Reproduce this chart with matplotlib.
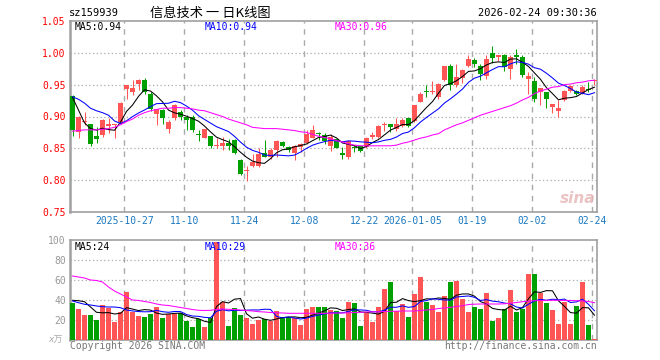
import numpy as np
import pandas as pd
import matplotlib
matplotlib.use("Agg")
import matplotlib.pyplot as plt

plt.rcParams['font.family'] = ['DejaVu Sans Mono', 'Noto Sans CJK SC']

# trading days 2025-10-14 .. 2026-02-24
holidays = ['2026-01-01', '2026-01-02', '2026-02-16', '2026-02-17', '2026-02-18',
            '2026-02-19', '2026-02-20', '2026-02-23']
dates = pd.bdate_range('2025-10-14', '2026-02-24', freq='C', holidays=holidays)

tick_dates = ['2025-10-27', '2025-11-10', '2025-11-24', '2025-12-08', '2025-12-22',
              '2026-01-05', '2026-01-19', '2026-02-02', '2026-02-24']
tick_labels = ['2025-10-27', '11-10', '11-24', '12-08', '12-22',
               '2026-01-05', '01-19', '02-02', '02-24']

opens = [0.932, 0.876, 0.891, 0.889, 0.869, 0.871, 0.885, 0.886, 0.892, 0.943,
         0.938, 0.951, 0.957, 0.936, 0.904, 0.910, 0.880, 0.898, 0.907, 0.900,
         0.900, 0.873, 0.867, 0.869, 0.853, 0.853, 0.859, 0.863, 0.832, 0.814,
         0.822, 0.822, 0.842, 0.836, 0.848, 0.860, 0.852, 0.843, 0.852, 0.859,
         0.867, 0.874, 0.871, 0.854, 0.865, 0.842, 0.836, 0.851, 0.853, 0.852,
         0.868, 0.868, 0.886, 0.888, 0.880, 0.885, 0.897, 0.893, 0.923, 0.940,
         0.939, 0.931, 0.957, 0.979, 0.949, 0.961, 0.979, 0.989, 0.979, 0.963,
         1.000, 0.994, 0.997, 0.975, 0.997, 0.993, 0.959, 0.956, 0.939, 0.938,
         0.915, 0.909, 0.926, 0.940, 0.940, 0.937, 0.942, 0.956]
highs = [0.933, 0.901, 0.907, 0.889, 0.883, 0.896, 0.897, 0.889, 0.923, 0.950,
         0.958, 0.959, 0.960, 0.938, 0.912, 0.911, 0.894, 0.919, 0.910, 0.902,
         0.902, 0.879, 0.881, 0.870, 0.866, 0.868, 0.864, 0.865, 0.833, 0.822,
         0.841, 0.850, 0.863, 0.850, 0.863, 0.861, 0.854, 0.855, 0.858, 0.879,
         0.886, 0.876, 0.874, 0.873, 0.865, 0.852, 0.863, 0.855, 0.855, 0.868,
         0.875, 0.887, 0.891, 0.889, 0.898, 0.898, 0.898, 0.918, 0.938, 0.949,
         0.956, 0.952, 0.980, 0.982, 0.982, 0.975, 0.997, 0.992, 0.982, 0.996,
         1.010, 0.997, 0.998, 0.997, 1.006, 0.996, 0.970, 0.962, 0.945, 0.939,
         0.920, 0.926, 0.941, 0.949, 0.941, 0.949, 0.954, 0.959]
lows = [0.870, 0.866, 0.886, 0.854, 0.859, 0.868, 0.874, 0.867, 0.889, 0.927,
        0.933, 0.941, 0.936, 0.908, 0.886, 0.888, 0.874, 0.894, 0.894, 0.879,
        0.876, 0.862, 0.866, 0.850, 0.850, 0.847, 0.847, 0.841, 0.808, 0.798,
        0.820, 0.820, 0.836, 0.834, 0.837, 0.852, 0.845, 0.832, 0.845, 0.857,
        0.866, 0.863, 0.857, 0.846, 0.850, 0.833, 0.833, 0.845, 0.845, 0.850,
        0.864, 0.867, 0.878, 0.876, 0.878, 0.883, 0.884, 0.892, 0.922, 0.931,
        0.935, 0.928, 0.956, 0.942, 0.947, 0.952, 0.977, 0.978, 0.958, 0.959,
        0.984, 0.987, 0.971, 0.959, 0.983, 0.962, 0.936, 0.922, 0.918, 0.913,
        0.906, 0.900, 0.924, 0.938, 0.933, 0.936, 0.939, 0.949]
closes = [0.879, 0.900, 0.892, 0.857, 0.865, 0.894, 0.889, 0.887, 0.921, 0.949,
          0.944, 0.957, 0.939, 0.911, 0.911, 0.897, 0.892, 0.918, 0.900, 0.895,
          0.879, 0.871, 0.880, 0.854, 0.854, 0.859, 0.854, 0.842, 0.810, 0.815,
          0.829, 0.841, 0.837, 0.847, 0.861, 0.853, 0.847, 0.854, 0.857, 0.873,
          0.879, 0.872, 0.862, 0.868, 0.851, 0.839, 0.862, 0.850, 0.846, 0.867,
          0.871, 0.885, 0.887, 0.883, 0.888, 0.894, 0.885, 0.918, 0.935, 0.939,
          0.940, 0.951, 0.979, 0.949, 0.962, 0.973, 0.991, 0.983, 0.967, 0.991,
          0.992, 0.996, 0.978, 0.994, 0.993, 0.965, 0.963, 0.927, 0.944, 0.927,
          0.919, 0.914, 0.940, 0.948, 0.936, 0.947, 0.941, 0.958]

# volume, unit 万
volumes = [37.5, 31, 25, 25, 20, 35, 32, 18, 28.5, 48,
           28.3, 24.3, 23, 26, 33, 22, 26, 26, 27.5, 19,
           13, 21, 13, 21.7, 98.3, 38, 14, 32, 25, 22,
           16, 20, 21, 19.5, 28.7, 22.8, 22.8, 22, 15, 31,
           33.2, 33.2, 33.2, 30, 29, 22, 38, 37, 14.3, 27,
           18, 33, 51, 58, 29, 36, 23, 46, 63, 38,
           35, 28, 44, 58, 59.3, 41, 28, 33, 31, 47,
           19, 22, 31, 50, 28, 31, 66, 66, 47, 37,
           30, 16, 38, 16, 34, 58, 15, 1]

ma5_head = [0.930, 0.910, 0.890, 0.881]
ma10_head = [0.931, 0.927, 0.921, 0.913, 0.909, 0.906, 0.902, 0.893, 0.889]
ma30 = [0.877, 0.878, 0.879, 0.879, 0.879, 0.880, 0.881, 0.883, 0.887, 0.892,
        0.896, 0.902, 0.906, 0.909, 0.911, 0.913, 0.913, 0.914, 0.914, 0.913,
        0.912, 0.910, 0.909, 0.906, 0.903, 0.900, 0.896, 0.893, 0.890, 0.887,
        0.883, 0.882, 0.881, 0.881, 0.881, 0.880, 0.879, 0.878, 0.876, 0.875,
        0.872, 0.869, 0.867, 0.865, 0.862, 0.860, 0.857, 0.855, 0.854, 0.854,
        0.854, 0.854, 0.854, 0.854, 0.855, 0.858, 0.860, 0.863, 0.866, 0.868,
        0.871, 0.873, 0.879, 0.883, 0.887, 0.890, 0.894, 0.898, 0.902, 0.905,
        0.908, 0.911, 0.914, 0.917, 0.921, 0.926, 0.930, 0.936, 0.940, 0.943,
        0.946, 0.947, 0.950, 0.951, 0.953, 0.954, 0.956, 0.957]
vma5_head = [39.7, 39.3, 38.3, 33]
vma10_head = [39, 37.3, 35.7, 35, 34, 33.3, 33, 33, 32.3]
vma30 = [64, 63, 62, 60, 59.5, 58, 53, 49, 46, 43,
         40, 39.5, 38.5, 37.5, 36, 35, 34.5, 33.5, 32.5, 31.5,
         30.5, 29.7, 29.5, 29.7, 30.5, 31, 30.7, 30.5, 30, 29.5,
         29, 28.3, 28, 27.5, 27.2, 27, 26.7, 26.7, 26.7, 26.7,
         26.7, 26.7, 26.7, 26.7, 27, 27, 27.2, 27.5, 27.7, 28,
         28.2, 28.3, 28.5, 28.7, 28.8, 29, 29, 29, 29.5, 30,
         30.5, 31.5, 32, 32.7, 33.5, 34.3, 35.5, 35.8, 36, 36,
         36, 36, 36.2, 36.8, 37.5, 38.3, 38.8, 39.3, 39.5, 39.6,
         39.7, 39.7, 39.6, 39.5, 39.3, 39, 38.5, 37.3]

RED = '#ff5555'
GREEN = '#00a000'
GRID = '#aaaaaa'
FRAME = '#a0a0a0'
LW = 0.75


def with_head(values, n, head):
    ma = pd.Series(values).rolling(n).mean().to_numpy()
    ma[:len(head)] = head
    return ma


def px(x):
    return x / 660


def py(y):
    return 1 - y / 360


x = np.arange(len(dates))
o = np.array(opens)
c = np.array(closes)
up = c >= o
colors = [RED if u else GREEN for u in up]
tick_pos = [dates.get_loc(pd.Timestamp(d)) - 0.35 for d in tick_dates]

fig = plt.figure(figsize=(6.6, 3.6), dpi=100)
ax = fig.add_axes([px(70), py(212), px(527), 191 / 360])
axv = fig.add_axes([px(70), py(340), px(527), 100 / 360])

for a in (ax, axv):
    a.set_xlim(-0.42, 87.42)
    for s in a.spines.values():
        s.set_color(FRAME)
        s.set_linewidth(1.2)
    a.spines['left'].set_linewidth(1.8)
    a.set_xticks([])
    a.tick_params(axis='y', length=0, pad=3, labelsize=7)
    for t in tick_pos:
        a.axvline(t, color=GRID, lw=1, ls=(0, (4, 4)), zorder=0)

# price panel
ax.set_ylim(0.75, 1.05)
yt = [0.75, 0.80, 0.85, 0.90, 0.95, 1.00, 1.05]
ax.set_yticks(yt)
ax.set_yticklabels(['%.2f' % v for v in yt], color='red')
for v in yt[1:-1]:
    ax.axhline(v, color=GRID, lw=0.9, ls=(0, (1, 2)), zorder=0)

ax.vlines(x, lows, highs, colors=colors, lw=LW, zorder=2)
body = np.maximum(np.abs(c - o), 0.0016)
ax.bar(x, body, bottom=np.minimum(o, c), width=0.8, color=colors, lw=0, zorder=3)

ax.plot(x, with_head(closes, 5, ma5_head), color='black', lw=LW, zorder=4)
ax.plot(x, with_head(closes, 10, ma10_head), color='blue', lw=LW, zorder=4)
ax.plot(x, ma30, color='magenta', lw=LW, zorder=4)

# volume panel
axv.set_ylim(0, 100)
vt = [20, 40, 60, 80, 100]
axv.set_yticks(vt)
axv.set_yticklabels([str(v) for v in vt], color='#999999')
for v in vt[:-1]:
    axv.axhline(v, color=GRID, lw=0.9, ls=(0, (1, 2)), zorder=0)
axv.bar(x, volumes, width=0.8, color=colors, lw=0, zorder=3)
axv.plot(x, with_head(volumes, 5, vma5_head), color='black', lw=LW, zorder=4)
axv.plot(x, with_head(volumes, 10, vma10_head), color='blue', lw=LW, zorder=4)
axv.plot(x, vma30, color='magenta', lw=LW, zorder=4)

# date labels between the panels
for t, lab in zip(tick_pos, tick_labels):
    fig.text(px(72.5 + 6 * t), py(221), lab, ha='center', va='center',
             fontsize=7, color='#1a78c2')

# header and labels
fig.text(px(69), py(13), 'sz159939', fontsize=7.5, va='center')
fig.text(px(150), py(13), '信息技术 一 日K线图', fontsize=9.5, va='center',
         family=['Noto Sans CJK SC', 'DejaVu Sans'])
fig.text(px(597), py(13), '2026-02-24 09:30:36', fontsize=7.5, va='center', ha='right')

fig.text(px(75), py(27), 'MA5:0.94', fontsize=7, va='center', color='black')
fig.text(px(205), py(27), 'MA10:0.94', fontsize=7, va='center', color='blue')
fig.text(px(335), py(27), 'MA30:0.96', fontsize=7, va='center', color='magenta')

fig.text(px(75), py(247), 'MA5:24', fontsize=7, va='center', color='black')
fig.text(px(205), py(247), 'MA10:29', fontsize=7, va='center', color='blue')
fig.text(px(335), py(247), 'MA30:36', fontsize=7, va='center', color='magenta')

fig.text(px(63), py(340), 'x万', fontsize=6.5, va='center', ha='right', color='#aaaaaa',
         style='italic', family=['DejaVu Sans', 'Noto Sans CJK SC'])
fig.text(px(70), py(346), 'Copyright 2026 SINA.COM', fontsize=7, va='center', color='#777777')
fig.text(px(597), py(346), 'http://finance.sina.com.cn', fontsize=7, va='center',
         ha='right', color='#777777')
fig.text(px(578), py(198), 'sina', fontsize=11, va='center', ha='center', color='#e6b4b4',
         style='italic', weight='bold', family='DejaVu Sans', alpha=0.8)

fig.savefig('out.png', dpi=100, facecolor='white')
